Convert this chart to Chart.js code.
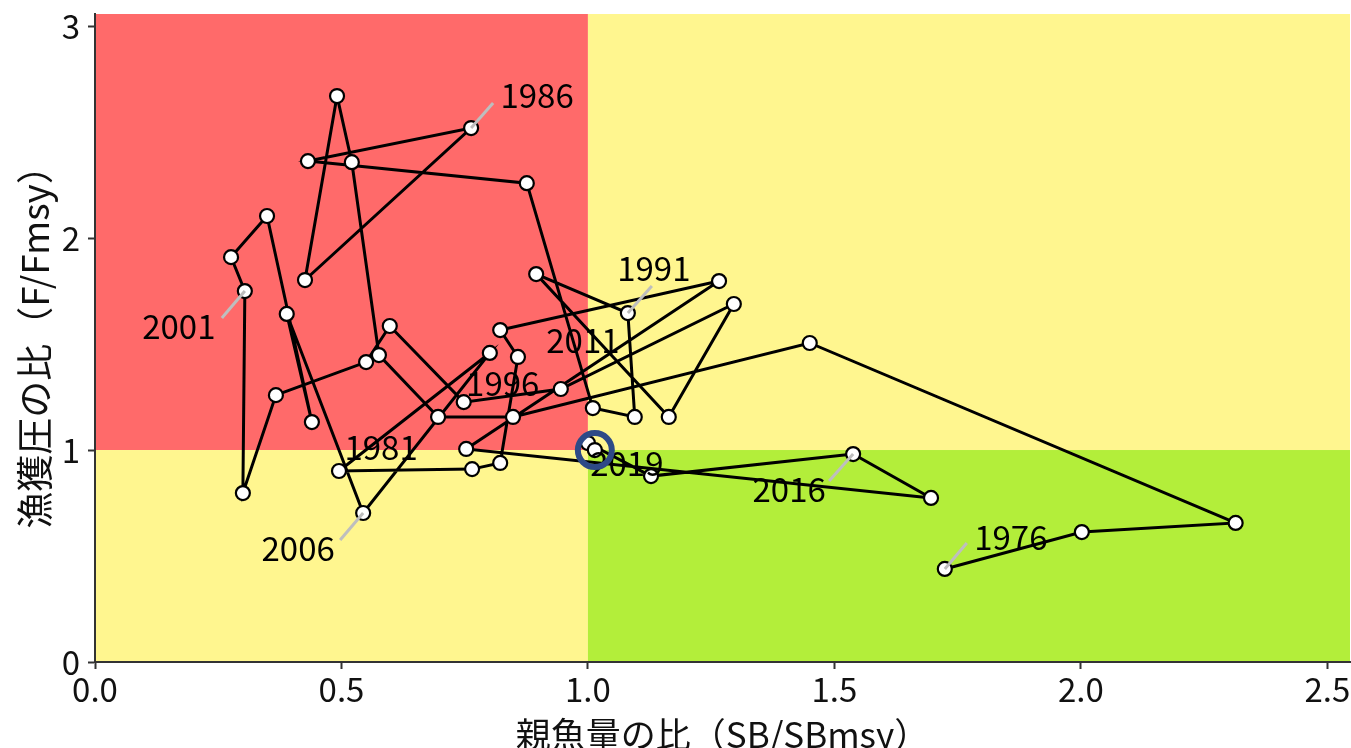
<!DOCTYPE html>
<html>
<head>
<meta charset="utf-8">
<script src="https://cdn.jsdelivr.net/npm/chart.js@4.4.1/dist/chart.umd.min.js"></script>
<style>
  html, body { margin: 0; padding: 0; background: #fff; }
  canvas { display: block; }
</style>
</head>
<body>
<canvas id="kobeChart" width="1351" height="748"></canvas>
<script>
// yearly trajectory
const years = [1976, 1977, 1978, 1979, 1980, 1981, 1982, 1983, 1984, 1985,
               1986, 1987, 1988, 1989, 1990, 1991, 1992, 1993, 1994, 1995,
               1996, 1997, 1998, 1999, 2000, 2001, 2002, 2003, 2004, 2005,
               2006, 2007, 2008, 2009, 2010, 2011, 2012, 2013, 2014, 2015,
               2016, 2017, 2018, 2019];
const sbRatio = [1.724, 2.002, 2.314, 1.450, 0.848, 0.696, 0.576, 0.521, 0.491, 0.426,
                 0.763, 0.432, 0.876, 1.010, 1.095, 1.081, 0.895, 1.164, 1.296, 0.945,
                 0.748, 0.598, 0.550, 0.367, 0.300, 0.304, 0.276, 0.349, 0.440, 0.389,
                 0.544, 0.801, 0.495, 0.765, 0.822, 0.858, 0.822, 1.266, 0.753, 1.696,
                 1.538, 1.128, 1.000, 1.014];
const fRatio = [0.439, 0.613, 0.656, 1.505, 1.156, 1.156, 1.448, 2.358, 2.670, 1.802,
                2.519, 2.363, 2.259, 1.198, 1.156, 1.646, 1.830, 1.156, 1.689, 1.288,
                1.226, 1.585, 1.415, 1.259, 0.797, 1.750, 1.910, 2.104, 1.132, 1.642,
                0.703, 1.458, 0.901, 0.910, 0.939, 1.439, 1.566, 1.797, 1.005, 0.774,
                0.981, 0.877, 1.033, 1.000];
const labelYears = [1976, 1981, 1986, 1991, 1996, 2001, 2006, 2011, 2016, 2019];
const xTicks = [0, 0.5, 1, 1.5, 2, 2.5];
const yTicks = [0, 1, 2, 3];

const FONT = "'Noto Sans CJK JP', 'Noto Sans', sans-serif";

// label placement (pixel offsets from the point), leader end or null
const labelStyle = {
    1976: { dx: 66, dy: -31, lead: [22, -26] },
    1981: { dx: -57, dy: 30, lead: null },
    1986: { dx: 66, dy: -33, lead: [22, -25] },
    1991: { dx: 26, dy: -45, lead: [24, -27] },
    1996: { dx: 39, dy: -19, lead: null },
    2001: { dx: -66, dy: 35, lead: [-23, 27] },
    2006: { dx: -65, dy: 35, lead: [-23, 27] },
    2011: { dx: 65, dy: -17, lead: null },
    2016: { dx: -64, dy: 35, lead: [-24, 27] },
    2019: { dx: 32, dy: 13, lead: null }
};

const zonePlugin = {
    id: 'zones',
    beforeDraw(chart) {
        const { ctx, chartArea: a, scales: { x, y } } = chart;
        const xm = x.getPixelForValue(1);
        const ym = y.getPixelForValue(1);
        ctx.save();
        ctx.fillStyle = '#FF6A6A';
        ctx.fillRect(a.left, a.top, xm - a.left, ym - a.top);
        ctx.fillStyle = '#FFF68F';
        ctx.fillRect(xm, a.top, a.right - xm, ym - a.top);
        ctx.fillRect(a.left, ym, xm - a.left, a.bottom - ym);
        ctx.fillStyle = '#B3EE3A';
        ctx.fillRect(xm, ym, a.right - xm, a.bottom - ym);
        ctx.restore();
    }
};

const yearLabelPlugin = {
    id: 'yearLabels',
    afterDatasetDraw(chart, args) {
        if (args.index !== 1) return;
        const { ctx, scales: { x, y } } = chart;
        ctx.save();
        ctx.font = '33px ' + FONT;
        ctx.textAlign = 'center';
        ctx.textBaseline = 'middle';
        labelYears.forEach(yr => {
            const i = years.indexOf(yr);
            const px = x.getPixelForValue(sbRatio[i]);
            const py = y.getPixelForValue(fRatio[i]);
            const st = labelStyle[yr];
            if (st.lead) {
                ctx.strokeStyle = '#BEBEBE';
                ctx.lineWidth = 3;
                ctx.beginPath();
                ctx.moveTo(px, py);
                ctx.lineTo(px + st.lead[0], py + st.lead[1]);
                ctx.stroke();
            }
            ctx.fillStyle = '#000';
            ctx.fillText(String(yr), px + st.dx, py + st.dy);
        });
        ctx.restore();
    }
};

const points = years.map((yr, i) => ({ x: sbRatio[i], y: fRatio[i] }));
const last = points[points.length - 1];

new Chart(document.getElementById('kobeChart'), {
    type: 'scatter',
    data: {
        datasets: [{
            label: 'latest',
            data: [last],
            showLine: false,
            pointRadius: 17,
            pointHoverRadius: 17,
            pointBorderWidth: 6,
            pointBorderColor: '#2E4A87',
            pointBackgroundColor: 'rgba(0,0,0,0)',
            order: 0
        }, {
            label: 'SB/F',
            data: points,
            showLine: true,
            borderColor: '#000',
            borderWidth: 3,
            pointRadius: 7,
            pointHoverRadius: 7,
            pointBorderWidth: 2.2,
            pointBorderColor: '#000',
            pointBackgroundColor: '#fff',
            order: 1
        }]
    },
    options: {
        responsive: false,
        animation: false,
        devicePixelRatio: 1,
        layout: { padding: { top: 14, right: 1, left: 0, bottom: 0 }, autoPadding: false },
        plugins: {
            legend: { display: false },
            tooltip: { enabled: false }
        },
        scales: {
            x: {
                type: 'linear',
                min: 0,
                max: 2.546,
                afterBuildTicks: s => { s.ticks = xTicks.map(v => ({ value: v })); },
                afterFit: s => {
                    s.height = 86;
                    s.paddingLeft = 0;
                    s.paddingRight = 0;
                },
                ticks: {
                    color: '#111',
                    font: { family: FONT, size: 33 },
                    padding: 1,
                    maxRotation: 0,
                    callback: v => Number(v).toFixed(1)
                },
                grid: { drawOnChartArea: false, drawTicks: true, tickLength: 7, tickColor: '#333', tickWidth: 2 },
                border: { display: true, color: '#333', width: 2 },
                title: {
                    display: true,
                    text: '親魚量の比（SB/SBmsy）',
                    color: '#111',
                    font: { family: FONT, size: 35, lineHeight: 1 },
                    padding: { top: 0, bottom: -4 }
                }
            },
            y: {
                type: 'linear',
                min: 0,
                max: 3.057,
                afterBuildTicks: s => { s.ticks = yTicks.map(v => ({ value: v })); },
                afterFit: s => {
                    s.width = 95;
                    s.paddingTop = 0;
                    s.paddingBottom = 0;
                },
                ticks: {
                    color: '#111',
                    font: { family: FONT, size: 33 },
                    padding: 8,
                    callback: v => String(v)
                },
                grid: { drawOnChartArea: false, drawTicks: true, tickLength: 7, tickColor: '#333', tickWidth: 2 },
                border: { display: true, color: '#333', width: 2 },
                title: {
                    display: true,
                    text: '漁獲圧の比（F/Fmsy）',
                    color: '#111',
                    font: { family: FONT, size: 37, lineHeight: 1 },
                    padding: { top: 16, bottom: 0 }
                }
            }
        }
    },
    plugins: [zonePlugin, yearLabelPlugin]
});
</script>
</body>
</html>
